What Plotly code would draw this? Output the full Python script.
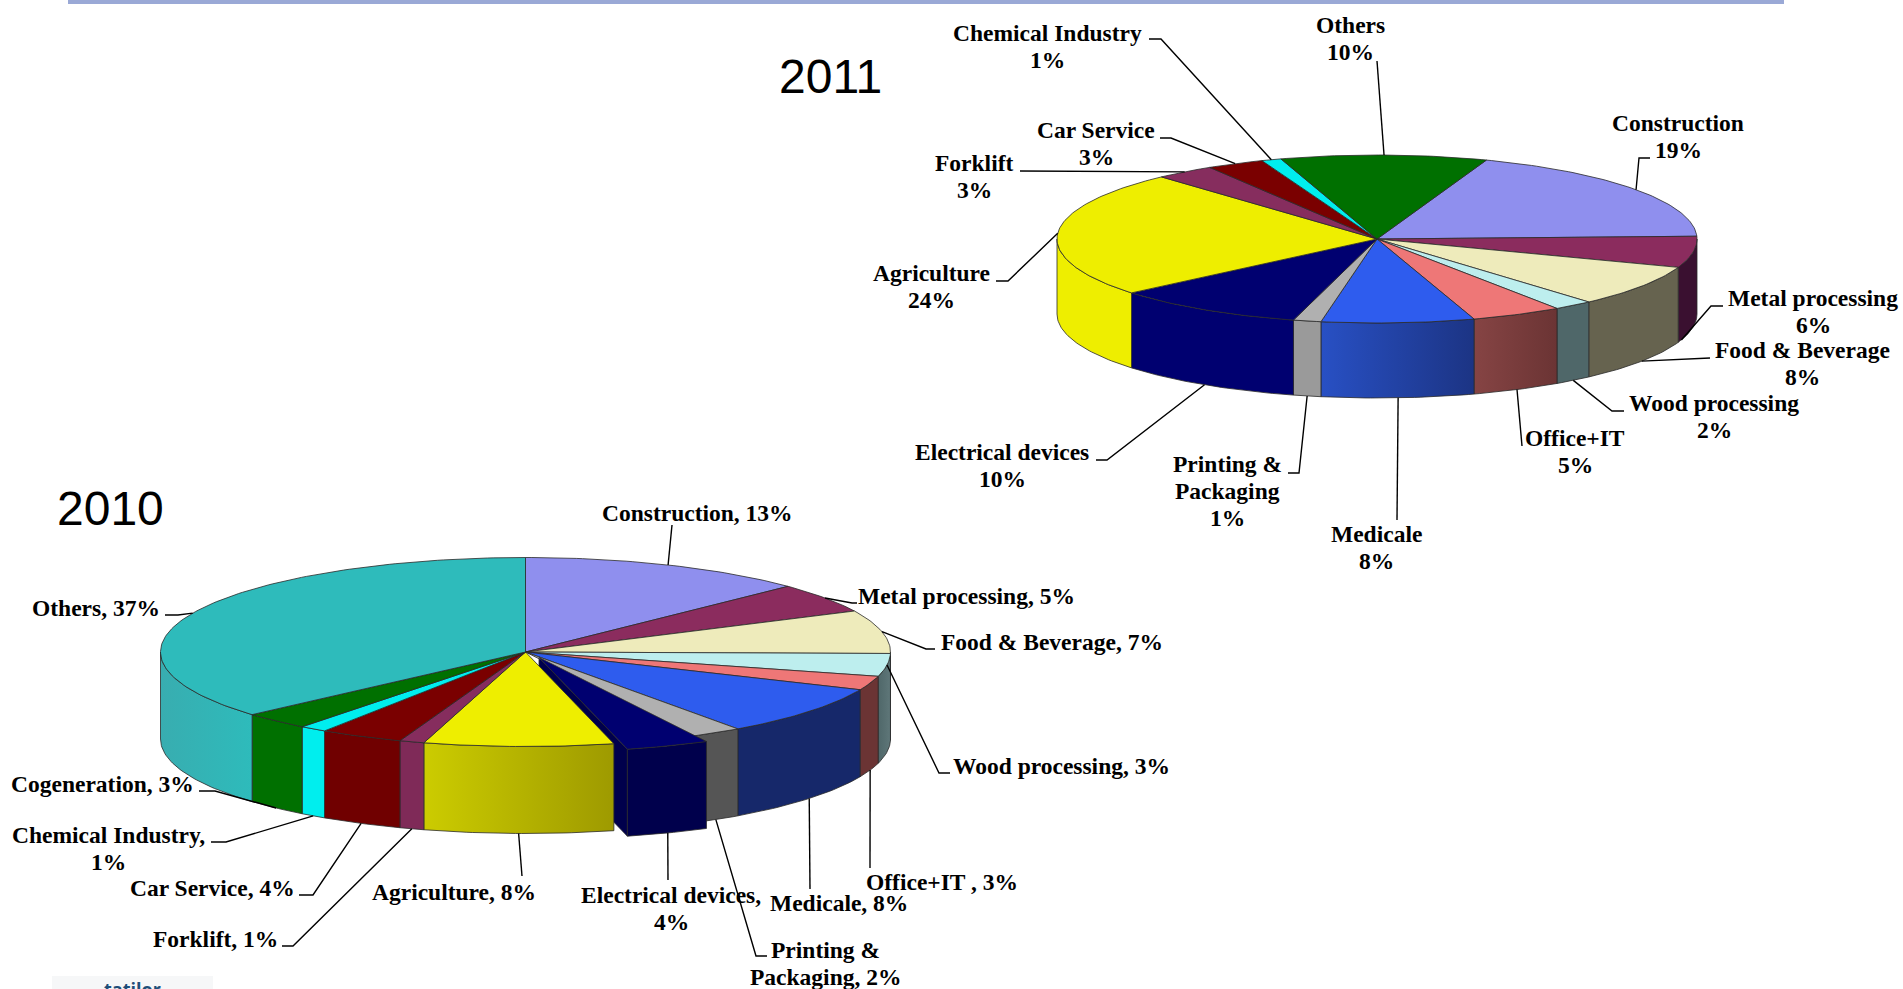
import math
import plotly.graph_objects as go

# sector shares (the printed labels are rounded)
sectors_2011 = ["Construction", "Metal processing", "Food & Beverage", "Wood processing", "Office+IT",
                "Medicale", "Printing & Packaging", "Electrical devices", "Agriculture", "Forklift",
                "Car Service", "Chemical Industry", "Others"]
values_2011 = [18.9, 6.0, 8.0, 2.0, 4.6, 7.7, 1.4, 9.7, 24.3, 3.0, 2.9, 1.0, 10.4]
labels_2011 = ["Construction<br>19%", "Metal processing<br>6%", "Food & Beverage<br>8%", "Wood processing<br>2%",
               "Office+IT<br>5%", "Medicale<br>8%", "Printing &<br>Packaging<br>1%", "Electrical devices<br>10%",
               "Agriculture<br>24%", "Forklift<br>3%", "Car Service<br>3%", "Chemical Industry<br>1%", "Others<br>10%"]

sectors_2010 = ["Construction", "Metal processing", "Food & Beverage", "Wood processing", "Office+IT",
                "Medicale", "Printing & Packaging", "Electrical devices", "Agriculture", "Forklift",
                "Car Service", "Chemical Industry", "Cogeneration", "Others"]
values_2010 = [12.8, 5.1, 7.4, 3.9, 2.4, 8.6, 2.3, 3.7, 8.4, 1.1, 3.7, 1.2, 3.0, 36.6]
labels_2010 = ["Construction, 13%", "Metal processing, 5%", "Food & Beverage, 7%", "Wood processing, 3%",
               "Office+IT , 3%", "Medicale, 8%", "Printing &<br>Packaging, 2%", "Electrical devices,<br>4%",
               "Agriculture, 8%", "Forklift, 1%", "Car Service, 4%", "Chemical Industry,<br>1%",
               "Cogeneration, 3%", "Others, 37%"]

# top face colours, and (left, right) colours for the rim
top_2011 = ["#8F8FEE", "#8B2C5E", "#EEEBBB", "#BDEEEE", "#EE7777", "#2E5CEE", "#B0B0B0", "#000070",
            "#EEEE00", "#862D5E", "#7A0000", "#00EEEE", "#007000"]
rim_2011 = [("#8F8FEE", "#8F8FEE"), ("#3A1030", "#3A1030"), ("#66634F", "#66634F"), ("#4F6769", "#4F6769"),
            ("#864444", "#6B3434"), ("#2850C4", "#1C3484"), ("#9A9A9A", "#9A9A9A"), ("#000070", "#000070"),
            ("#EEEE00", "#EEEE00"), ("#862D5E", "#862D5E"), ("#7A0000", "#7A0000"), ("#00EEEE", "#00EEEE"),
            ("#007000", "#007000")]

top_2010 = ["#8F8FEE", "#8B2C5E", "#EEEBBB", "#BDEEEE", "#EE7777", "#2E5CEE", "#B0B0B0", "#000070",
            "#EEEE00", "#862D5E", "#7A0000", "#00EEEE", "#007000", "#2EBBBB"]
rim_2010 = [("#8F8FEE", "#8F8FEE"), ("#3A1030", "#3A1030"), ("#66634F", "#66634F"), ("#4F6769", "#5F7779"),
            ("#6B3434", "#6B3434"), ("#16286A", "#16286A"), ("#555555", "#555555"), ("#00004C", "#00004C"),
            ("#CCCC00", "#9E9A00"), ("#7F2A58", "#7F2A58"), ("#700000", "#700000"), ("#00EEEE", "#00EEEE"),
            ("#007000", "#007000"), ("#38ADB0", "#2EBBBB")]

# pie geometry in page pixels (the axes run 1:1 with the page)
PIE_2011 = dict(cx=1377, cy=239, rx=320, ry=84, depth=75, start=20)
PIE_2010 = dict(cx=525.5, cy=652, rx=365, ry=94.5, depth=87, start=0)
EXPLODE_2010 = 7   # Electrical devices is pulled out
EXPLODE_SHIFT = (13.5, 5.5)
LABEL_SIZE = 23.5
LINE_STEP = 27

# label centres
label_pos_2011 = [(1678, 136), (1813, 311), (1802, 363), (1714, 416), (1575, 451), (1376, 547), (1227, 491),
                  (1002, 465), (931, 286), (974, 176), (1096, 143), (1047, 46), (1350, 38)]
label_pos_2010 = [(697, 513), (966, 596), (1052, 642), (1061, 766), (942, 882), (839, 903), (825, 963),
                  (671, 908), (454, 892), (215, 939), (212, 888), (108, 848), (102, 784), (96, 608)]

# leader lines: (angle override or None, on the rim top?, elbow points)
leaders_2011 = [
    (None, True, [(1639, 158), (1650, 158)]),
    (108, False, [(1711, 306), (1723, 306)]),
    (None, False, [(1710, 358)]),
    (None, False, [(1612, 411), (1624, 411)]),
    (None, False, [(1522, 446)]),
    (None, False, [(1397, 520)]),
    (None, False, [(1299, 473), (1288, 473)]),
    (None, False, [(1107, 460), (1096, 460)]),
    (None, True, [(1008, 281), (996, 281)]),
    (None, True, [(1020, 171)]),
    (None, True, [(1171, 138), (1160, 138)]),
    (None, True, [(1161, 39), (1149, 39)]),
    (None, True, [(1377, 61)]),
]
leaders_2010 = [
    (None, True, [(672, 525)]),
    (None, True, [(852, 603), (857, 603)]),
    (None, True, [(926, 649), (935, 649)]),
    (None, True, [(939, 773), (950, 773)]),
    (None, False, [(870, 868)]),
    (None, False, [(810, 889)]),
    (None, False, [(756, 956), (767, 956)]),
    (None, False, [(668, 880)]),
    (None, False, [(522, 876)]),
    (None, False, [(293, 946), (282, 946)]),
    (None, False, [(313, 895), (299, 895)]),
    (None, False, [(226, 842), (211, 842)]),
    (None, False, [(215, 791), (199, 791)]),
    (None, True, [(178, 615), (165, 615)]),
]

OUTLINE = "#2A2A2A"
fig = go.Figure()


def rim_point(pie, deg, drop=0.0):
    a = math.radians(deg)
    return pie["cx"] + pie["rx"] * math.sin(a), pie["cy"] - pie["ry"] * math.cos(a) + drop


def arc(pie, a0, a1, drop=0.0):
    n = max(2, int(abs(a1 - a0)) + 2)
    return [rim_point(pie, a0 + (a1 - a0) * i / (n - 1), drop) for i in range(n)]


def slice_angles(values, start):
    total = sum(values)
    out, a = [], start
    for v in values:
        out.append((a, a + v / total * 360))
        a += v / total * 360
    return out


def add_poly(points, name, color=None, gradient=None, shift=(0, 0)):
    kw = dict(fillcolor=color)
    if gradient and gradient[0] != gradient[1]:
        kw = dict(fillgradient=dict(type="horizontal", colorscale=[[0, gradient[0]], [1, gradient[1]]]))
    elif gradient:
        kw = dict(fillcolor=gradient[0])
    pts = points + [points[0]]
    fig.add_trace(go.Scatter(
        x=[p[0] + shift[0] for p in pts],
        y=[p[1] + shift[1] for p in pts],
        mode="lines", fill="toself", name=name,
        line=dict(color=OUTLINE, width=0.8),
        hoverinfo="name", showlegend=False, **kw,
    ))


def add_side(pie, a0, a1, name, colors, shift=(0, 0)):
    # only the front half of the rim can be seen
    lo, hi = max(a0, 90), min(a1, 270)
    if hi <= lo:
        return
    pts = arc(pie, lo, hi) + arc(pie, hi, lo, pie["depth"])
    add_poly(pts, name, gradient=colors, shift=shift)


def add_top(pie, a0, a1, name, color, shift=(0, 0)):
    add_poly([(pie["cx"], pie["cy"])] + arc(pie, a0, a1), name, color=color, shift=shift)


def draw_pie(pie, sectors, values, tops, rims, exploded=None):
    angles = slice_angles(values, pie["start"])
    if exploded is not None:
        # cut face of the pulled-out slice goes underneath everything else
        a0 = angles[exploded][1]
        edge = rim_point(pie, a0)
        c = (pie["cx"], pie["cy"])
        d = pie["depth"]
        add_poly([c, edge, (edge[0], edge[1] + d), (c[0], c[1] + d)], sectors[exploded] + " cut",
                 color="#00004C", shift=EXPLODE_SHIFT)
    for i, (a0, a1) in enumerate(angles):
        if i != exploded:
            add_side(pie, a0, a1, sectors[i], rims[i])
    for i, (a0, a1) in enumerate(angles):
        if i != exploded:
            add_top(pie, a0, a1, sectors[i], tops[i])
    if exploded is not None:
        a0, a1 = angles[exploded]
        add_side(pie, a0, a1, sectors[exploded], rims[exploded], shift=EXPLODE_SHIFT)
        add_top(pie, a0, a1, sectors[exploded], tops[exploded], shift=EXPLODE_SHIFT)
    return angles


def draw_labels(pie, angles, labels, positions, leaders, exploded=None):
    for i, (a0, a1) in enumerate(angles):
        angle, on_top, elbow = leaders[i]
        mid = angle if angle is not None else (a0 + a1) / 2
        x0, y0 = rim_point(pie, mid, 0 if on_top else pie["depth"])
        if i == exploded:
            x0, y0 = x0 + EXPLODE_SHIFT[0], y0 + EXPLODE_SHIFT[1]
        pts = [(x0, y0)] + elbow
        fig.add_trace(go.Scatter(
            x=[p[0] for p in pts], y=[p[1] for p in pts], mode="lines",
            line=dict(color="#000000", width=1.4), hoverinfo="skip", showlegend=False,
        ))
        # one annotation per line, the label leading is tighter than plotly's
        lines = labels[i].split("<br>")
        for k, line in enumerate(lines):
            fig.add_annotation(
                x=positions[i][0], y=positions[i][1] + (k - (len(lines) - 1) / 2) * LINE_STEP,
                text="<b>" + line + "</b>", showarrow=False,
                xanchor="center", yanchor="middle", align="center",
                font=dict(family="Liberation Serif", size=LABEL_SIZE, color="#000000"),
            )


angles_2011 = draw_pie(PIE_2011, sectors_2011, values_2011, top_2011, rim_2011)
angles_2010 = draw_pie(PIE_2010, sectors_2010, values_2010, top_2010, rim_2010, exploded=EXPLODE_2010)
draw_labels(PIE_2011, angles_2011, labels_2011, label_pos_2011, leaders_2011)
draw_labels(PIE_2010, angles_2010, labels_2010, label_pos_2010, leaders_2010, exploded=EXPLODE_2010)

# year titles
for year, x, y in [("2011", 830, 76), ("2010", 110, 508)]:
    fig.add_annotation(x=x, y=y, text=year, showarrow=False, xanchor="center", yanchor="middle",
                       font=dict(family="Liberation Sans", size=48, color="#000000"))

# slide furniture: band at the top, the cropped logo at the bottom left
fig.add_shape(type="rect", x0=68, x1=1784, y0=0, y1=4, fillcolor="#9AA9D6", line_width=0, layer="below")
fig.add_shape(type="rect", x0=52, x1=213, y0=976, y1=989, fillcolor="#F6F7F8", line_width=0, layer="below")
fig.add_annotation(x=132, y=975, text="<b>tatilor</b>", showarrow=False, xanchor="center", yanchor="top",
                   font=dict(family="Open Sans", size=18, color="#1F4E79"))

fig.update_layout(
    width=1903, height=989,
    margin=dict(l=0, r=0, t=0, b=0),
    paper_bgcolor="white", plot_bgcolor="white",
    showlegend=False,
    xaxis=dict(range=[0, 1903], visible=False, fixedrange=True),
    yaxis=dict(range=[989, 0], visible=False, fixedrange=True),
)

fig.write_html("out.html", config={"displayModeBar": False},
               post_script="document.body.style.margin='0';document.body.style.overflow='hidden';")
